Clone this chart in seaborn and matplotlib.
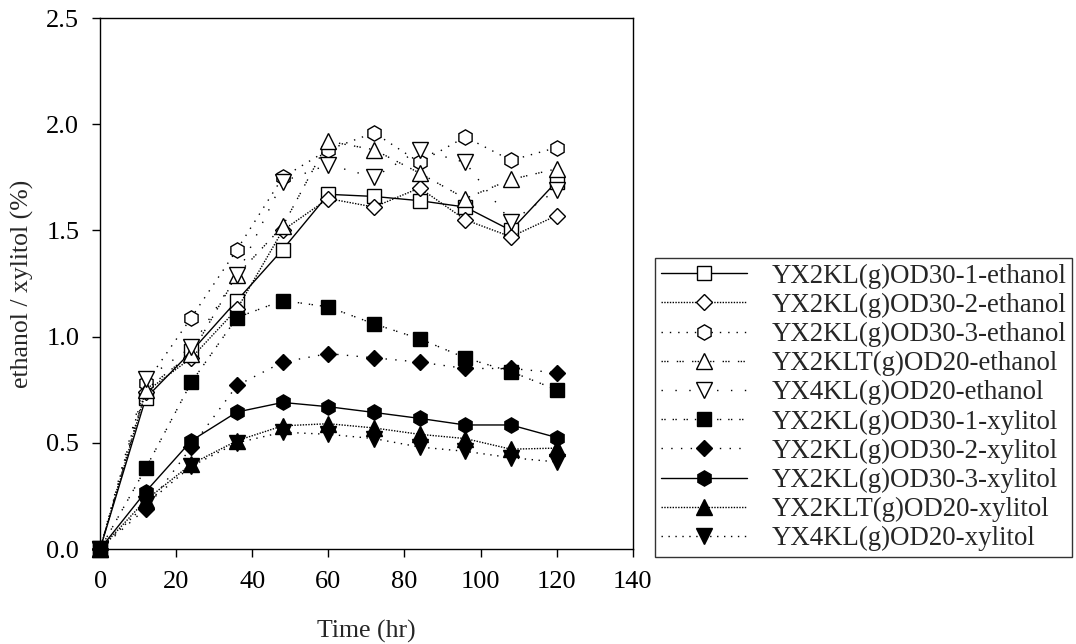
import matplotlib
matplotlib.use("Agg")
import matplotlib.pyplot as plt
import seaborn as sns
import pandas as pd

# Sampling times (hr)
time_hr = [0, 12, 24, 36, 48, 60, 72, 84, 96, 108, 120]

# Ethanol concentration (%)
ethanol_od30_1 = [0, 0.71, 0.93, 1.17, 1.41, 1.67, 1.66, 1.64, 1.61, 1.50, 1.73]
ethanol_od30_2 = [0, 0.74, 0.90, 1.13, 1.50, 1.65, 1.61, 1.70, 1.55, 1.47, 1.57]
ethanol_od30_3 = [0, 0.78, 1.09, 1.41, 1.75, 1.88, 1.96, 1.82, 1.94, 1.83, 1.89]
ethanol_klt_od20 = [0, 0.75, 0.92, 1.29, 1.52, 1.92, 1.88, 1.77, 1.65, 1.74, 1.79]
ethanol_yx4_od20 = [0, 0.80, 0.95, 1.29, 1.73, 1.81, 1.75, 1.88, 1.82, 1.54, 1.69]

# Xylitol concentration (%)
xylitol_od30_1 = [0, 0.38, 0.785, 1.09, 1.17, 1.14, 1.06, 0.99, 0.90, 0.835, 0.75]
xylitol_od30_2 = [0, 0.19, 0.48, 0.77, 0.88, 0.92, 0.90, 0.88, 0.85, 0.85, 0.83]
xylitol_od30_3 = [0, 0.27, 0.51, 0.645, 0.69, 0.67, 0.643, 0.615, 0.584, 0.584, 0.525]
xylitol_klt_od20 = [0, 0.23, 0.40, 0.51, 0.58, 0.59, 0.57, 0.54, 0.52, 0.47, 0.475]
xylitol_yx4_od20 = [0, 0.21, 0.39, 0.50, 0.55, 0.54, 0.52, 0.48, 0.46, 0.43, 0.41]

series_names = [
    "YX2KL(g)OD30-1-ethanol",
    "YX2KL(g)OD30-2-ethanol",
    "YX2KL(g)OD30-3-ethanol",
    "YX2KLT(g)OD20-ethanol",
    "YX4KL(g)OD20-ethanol",
    "YX2KL(g)OD30-1-xylitol",
    "YX2KL(g)OD30-2-xylitol",
    "YX2KL(g)OD30-3-xylitol",
    "YX2KLT(g)OD20-xylitol",
    "YX4KL(g)OD20-xylitol",
]
series_values = [
    ethanol_od30_1, ethanol_od30_2, ethanol_od30_3, ethanol_klt_od20, ethanol_yx4_od20,
    xylitol_od30_1, xylitol_od30_2, xylitol_od30_3, xylitol_klt_od20, xylitol_yx4_od20,
]

# marker, filled, line dash pattern
styles = [
    ("s", False, "-"),
    ("D", False, (0, (1, 1))),
    ("h", False, (0, (1, 5))),
    ("^", False, (0, (1, 1, 1, 1, 1, 6))),
    ("v", False, (0, (1, 9))),
    ("s", True, (0, (1, 1, 1, 5))),
    ("D", True, (0, (1, 6))),
    ("h", True, "-"),
    ("^", True, (0, (1, 1))),
    ("v", True, (0, (1, 4))),
]
marker_sizes = {"s": 10, "D": 8.5, "h": 11, "^": 11, "v": 11}

sns.set_style("ticks")
plt.rcParams["font.family"] = ["Liberation Serif", "DejaVu Serif"]
plt.rcParams["font.size"] = 18

fig = plt.figure(figsize=(10.76, 6.44), dpi=100)
ax = fig.add_axes([0.093, 0.1475, 0.495, 0.8245])

for name, vals, (mk, filled, ls) in zip(series_names, series_values, styles):
    df = pd.DataFrame({"time": time_hr, "value": vals})
    sns.lineplot(
        data=df, x="time", y="value", ax=ax, sort=False, errorbar=None,
        color="black", linewidth=1.0, linestyle=ls, label=name,
        marker=mk, markersize=marker_sizes[mk],
        markerfacecolor="black" if filled else "white",
        markeredgecolor="black", markeredgewidth=1.0, clip_on=False,
    )

ax.set_xlim(0, 140)
ax.set_ylim(0, 2.5)
ax.set_xticks(range(0, 141, 20))
ax.set_yticks([0.0, 0.5, 1.0, 1.5, 2.0, 2.5])
ax.set_yticklabels(["0.0", "0.5", "1.0", "1.5", "2.0", "2.5"])
ax.set_xlabel("Time (hr)", fontsize=18.5, labelpad=19)
ax.set_ylabel("ethanol / xylitol (%)", fontsize=18.5, labelpad=9)
ax.tick_params(axis="both", direction="out", length=6, width=1, labelsize=19,
               color="black", labelcolor="black")
ax.tick_params(axis="y", pad=9)
ax.tick_params(axis="x", pad=10)
for side in ["left", "bottom", "top", "right"]:
    ax.spines[side].set_visible(True)
    ax.spines[side].set_color("black")
    ax.spines[side].set_linewidth(1.0)

handles, labels = ax.get_legend_handles_labels()
if ax.legend_:
    ax.legend_.remove()
leg = fig.legend(
    handles, labels, loc="upper left", bbox_to_anchor=(0.609, 0.600),
    frameon=True, fancybox=False, edgecolor="black", fontsize=19.4,
    handlelength=3.2, handletextpad=0.9, labelspacing=0.15, borderpad=0.22,
    borderaxespad=0.0,
)
leg.get_frame().set_linewidth(1.0)

fig.savefig("out.png", dpi=100)
